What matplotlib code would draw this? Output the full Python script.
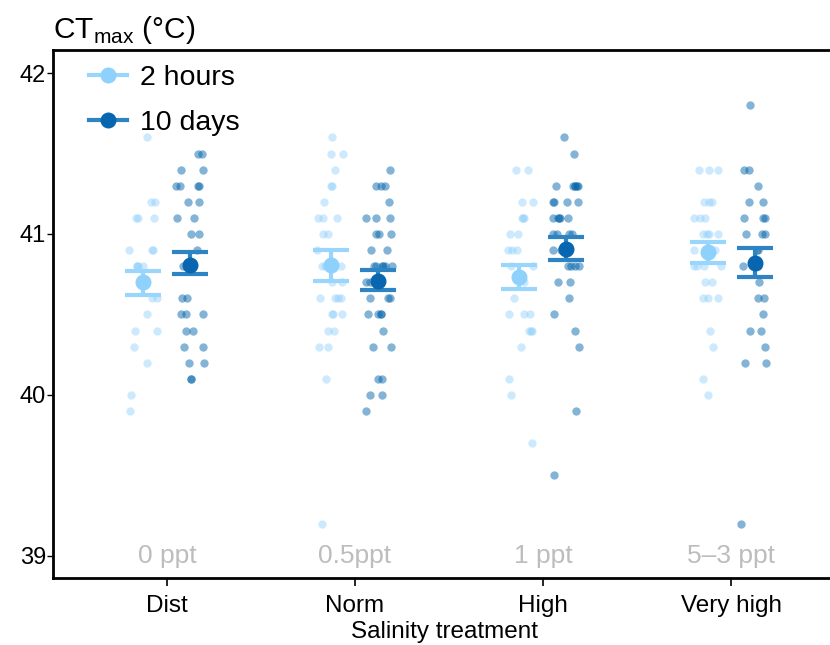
import numpy as np
import matplotlib
matplotlib.use("Agg")
import matplotlib.pyplot as plt
from matplotlib.lines import Line2D

plt.rcParams['font.family'] = ['Liberation Sans', 'DejaVu Sans']

treatments = ["Dist", "Norm", "High", "Very high"]
salinity = ["0 ppt", "0.5ppt", "1 ppt", "5\u20133 ppt"]
groups = ["2 hours", "10 days"]

# individual CTmax values (0.1 degree steps)
dist_2h = [41.6, 41.2, 41.2, 41.1, 41.1, 41.1, 40.9, 40.9, 40.9, 40.8, 40.8, 40.8, 40.8,
           40.7, 40.7, 40.7, 40.6, 40.6, 40.5, 40.4, 40.4, 40.3, 40.2, 40.0, 39.9]
dist_10d = [41.5, 41.5, 41.4, 41.4, 41.3, 41.3, 41.3, 41.3, 41.2, 41.2, 41.1, 41.1, 41.0, 41.0,
            40.9, 40.8, 40.6, 40.6, 40.5, 40.5, 40.5, 40.4, 40.4, 40.3, 40.3, 40.2, 40.2,
            40.1, 40.1]
norm_2h = [41.6, 41.5, 41.5, 41.4, 41.3, 41.3, 41.2, 41.1, 41.1, 41.1, 41.0, 41.0, 40.9,
           40.8, 40.8, 40.8, 40.7, 40.7, 40.6, 40.6, 40.6, 40.6, 40.5, 40.5, 40.5,
           40.4, 40.4, 40.3, 40.3, 40.1, 39.2]
norm_10d = [41.4, 41.3, 41.3, 41.3, 41.2, 41.1, 41.1, 41.1, 41.0, 41.0, 41.0, 40.9, 40.9,
            40.8, 40.8, 40.8, 40.8, 40.8, 40.8, 40.7, 40.7, 40.6, 40.6, 40.6,
            40.5, 40.5, 40.5, 40.5, 40.4, 40.3, 40.3, 40.1, 40.1, 40.0, 40.0, 39.9]
high_2h = [41.4, 41.4, 41.2, 41.2, 41.1, 41.1, 41.1, 41.0, 41.0, 40.9, 40.9, 40.9,
           40.8, 40.8, 40.7, 40.6, 40.5, 40.5, 40.5, 40.4, 40.4, 40.4, 40.3, 40.1, 40.0, 39.7]
high_10d = [41.6, 41.5, 41.3, 41.3, 41.3, 41.3, 41.3, 41.3, 41.2, 41.2, 41.2, 41.2,
            41.1, 41.1, 41.1, 41.1, 41.1, 41.0, 41.0, 41.0, 41.0, 40.9, 40.9,
            40.8, 40.8, 40.8, 40.8, 40.7, 40.7, 40.6, 40.5, 40.4, 40.3, 39.9, 39.5]
vhigh_2h = [41.4, 41.4, 41.4, 41.2, 41.2, 41.2, 41.1, 41.1, 41.1, 41.0, 41.0, 41.0, 41.0,
            40.9, 40.9, 40.8, 40.8, 40.8, 40.8, 40.7, 40.7, 40.6, 40.6, 40.6,
            40.4, 40.3, 40.1, 40.0]
vhigh_10d = [41.8, 41.4, 41.4, 41.3, 41.2, 41.2, 41.1, 41.1, 41.1, 41.0, 41.0, 41.0,
             40.9, 40.9, 40.8, 40.8, 40.7, 40.6, 40.6, 40.5, 40.4, 40.4, 40.3,
             40.2, 40.2, 39.2]

raw_2h = [dist_2h, norm_2h, high_2h, vhigh_2h]
raw_10d = [dist_10d, norm_10d, high_10d, vhigh_10d]

# means and error bar limits as drawn
mean_2h = [40.70, 40.81, 40.735, 40.89]
low_2h = [40.62, 40.71, 40.66, 40.82]
up_2h = [40.77, 40.90, 40.81, 40.95]
mean_10d = [40.81, 40.71, 40.905, 40.82]
low_10d = [40.75, 40.65, 40.84, 40.73]
up_10d = [40.89, 40.775, 40.98, 40.91]

pt_cols = ["#8FD0FB", "#0868AC"]
pt_alpha = [0.45, 0.5]
bar_cols = ["#9AD6FB", "#2E84C2"]
mean_cols = ["#8ED1FC", "#0766AF"]

fig = plt.figure(figsize=(8.3, 6.45), dpi=100)
ax = fig.add_axes([53 / 830, 1 - 578 / 645, (835 - 53) / 830, (578 - 50) / 645])

rng = np.random.default_rng(7)
x = np.arange(1, len(treatments) + 1)
dodge = [-0.125, 0.125]

for g, (raw, means, lows, ups) in enumerate([(raw_2h, mean_2h, low_2h, up_2h),
                                             (raw_10d, mean_10d, low_10d, up_10d)]):
    for i, vals in enumerate(raw):
        jit = rng.uniform(-0.075, 0.075, len(vals))
        ax.scatter(x[i] + dodge[g] + jit, vals, s=36, color=pt_cols[g],
                   alpha=pt_alpha[g], linewidths=0, zorder=2)
    means = np.array(means)
    yerr = [means - np.array(lows), np.array(ups) - means]
    ax.errorbar(x + dodge[g], means, yerr=yerr, fmt='none', ecolor=bar_cols[g],
                elinewidth=3, capsize=13, capthick=3, zorder=3)
    ax.plot(x + dodge[g], means, 'o', color=mean_cols[g], markersize=10.5, zorder=4)

for i, s in enumerate(salinity):
    ax.text(x[i], 39.0, s, ha='center', va='center', fontsize=19, color='#BDBDBD')

# legend handles: line with dot
handles = [Line2D([], [], color=bar_cols[g], lw=3, marker='o', markersize=10.5,
                  markerfacecolor=mean_cols[g], markeredgecolor=mean_cols[g])
           for g in range(2)]
ax.legend(handles, groups, loc='upper left', bbox_to_anchor=(0.02, 1.01), frameon=False,
          fontsize=20.5, handlelength=1.35, handletextpad=0.45, labelspacing=0.68,
          borderaxespad=0.3)

ax.set_xlim(0.394, 4.553)
ax.set_ylim(38.863, 42.143)
ax.set_xticks(x)
ax.set_xticklabels(treatments, fontsize=17.5)
ax.set_yticks([39, 40, 41, 42])
ax.tick_params(axis='y', labelsize=17, length=4, width=1, pad=1)
ax.tick_params(axis='x', length=6, width=1.2, pad=6)
ax.set_xlabel("Salinity treatment", fontsize=17.5, labelpad=3)
for sp in ax.spines.values():
    sp.set_linewidth(2)
ax.spines['right'].set_visible(False)

fig.text(53 / 830, 1 - 30 / 645, r"CT$_{\mathregular{max}}$ (°C)", fontsize=21.5,
         ha='left', va='center')

fig.savefig("out.png", dpi=100)
